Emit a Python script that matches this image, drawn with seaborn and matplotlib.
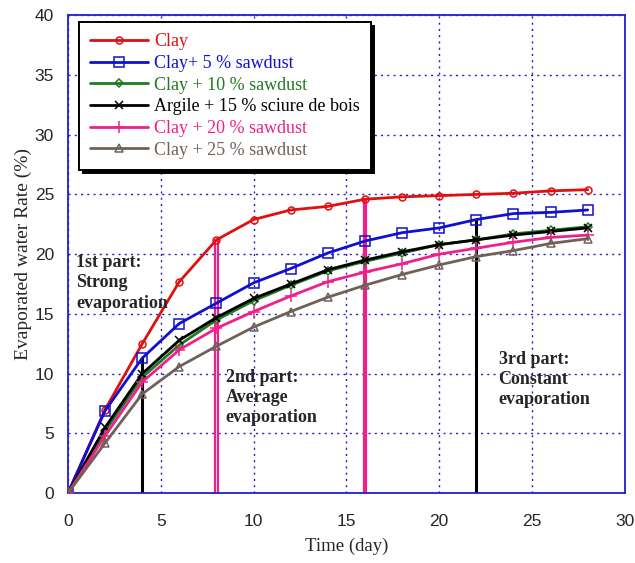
import pandas as pd
import matplotlib
matplotlib.use("Agg")
import matplotlib.pyplot as plt
import seaborn as sns

# Data (time in days, evaporated water rate in %)
days = [0, 2, 4, 6, 8, 10, 12, 14, 16, 18, 20, 22, 24, 26, 28]
clay = [0, 7.0, 12.5, 17.7, 21.2, 22.9, 23.7, 24.0, 24.6, 24.8, 24.9, 25.0, 25.1, 25.3, 25.4]
clay_5 = [0, 6.9, 11.3, 14.2, 15.9, 17.6, 18.8, 20.1, 21.1, 21.8, 22.2, 22.9, 23.4, 23.5, 23.7]
clay_10 = [0, 5.2, 9.7, 12.4, 14.5, 16.1, 17.4, 18.6, 19.4, 20.1, 20.8, 21.2, 21.7, 22.0, 22.3]
clay_15 = [0, 5.5, 10.0, 12.8, 14.7, 16.3, 17.5, 18.7, 19.5, 20.2, 20.8, 21.2, 21.6, 21.9, 22.2]
clay_20 = [0, 4.8, 9.3, 12.0, 13.8, 15.2, 16.5, 17.7, 18.5, 19.2, 20.0, 20.5, 21.0, 21.4, 21.6]
clay_25 = [0, 4.2, 8.3, 10.6, 12.3, 13.9, 15.2, 16.4, 17.4, 18.3, 19.1, 19.8, 20.3, 20.9, 21.3]

labels = ["Clay", "Clay+ 5 % sawdust", "Clay + 10 % sawdust",
          "Argile + 15 % sciure de bois", "Clay + 20 % sawdust", "Clay + 25 % sawdust"]
colors = ["#e01010", "#1010d0", "#207a20", "#000000", "#f0208a", "#706058"]
markers = ["o", "s", "D", "x", "+", "^"]
msizes = [5, 7, 4, 6, 9, 6]

# phase separators: (day, top value)
sep_days = [4, 8, 16, 22]
sep_tops = [11.3, 21.2, 24.6, 22.9]
sep_colors = ["#000000", "#f0208a", "#f0208a", "#000000"]

df = pd.DataFrame({"day": days})
for lab, vals in zip(labels, [clay, clay_5, clay_10, clay_15, clay_20, clay_25]):
    df[lab] = vals

sns.set_style("white")
plt.rcParams["font.family"] = ["Liberation Sans", "DejaVu Sans"]

fig = plt.figure(figsize=(6.35, 5.63), dpi=100)
ax = fig.add_axes([0.107, 0.124, 0.877, 0.849])

# vertical phase lines
for d, top, c in zip(sep_days, sep_tops, sep_colors):
    if c == "#000000":
        ax.plot([d, d], [0, top], color=c, lw=2.2, zorder=2)
    else:
        for off in (-0.06, 0.06):
            ax.plot([d + off, d + off], [0, top], color=c, lw=1.6, zorder=2)

for lab, c, m, ms in zip(labels, colors, markers, msizes):
    mfc = "none" if m in ("o", "s", "D", "^") else c
    sns.lineplot(data=df, x="day", y=lab, ax=ax, color=c, marker=m, markersize=ms,
                 markerfacecolor=mfc, markeredgecolor=c, markeredgewidth=1.1,
                 linewidth=2, label=lab, zorder=3)

ax.set_xlim(0, 30)
ax.set_ylim(0, 40)
ax.set_xticks(range(0, 31, 5))
ax.set_yticks(range(0, 41, 5))
ax.grid(True, color="#2020c0", linestyle=(0, (1.5, 3)), linewidth=1)
for s in ax.spines.values():
    s.set_color("#2020d0")
    s.set_linewidth(1.3)
ax.tick_params(direction="in", length=5, color="#2020d0", labelsize=12.5)
ax.tick_params(axis="x", pad=15)
ax.tick_params(axis="y", pad=10)

ax.set_xlabel("Time (day)", family="Liberation Serif", fontsize=13.5, labelpad=6)
ax.set_ylabel("Evaporated water Rate (%)", family="Liberation Serif", fontsize=14, labelpad=2)

leg = ax.legend(loc="upper left", bbox_to_anchor=(0.02, 0.985), borderaxespad=0,
                prop={"family": "Liberation Serif", "size": 13},
                labelcolor="linecolor", handlelength=3.2, handletextpad=0.35, labelspacing=0.26,
                borderpad=0.6, fancybox=False, framealpha=1,
                shadow={"ox": 2.5, "oy": -2.5, "color": "black", "alpha": 1})
leg.get_frame().set_edgecolor("black")
leg.get_frame().set_linewidth(1.4)

txt = dict(family="Liberation Serif", fontsize=13, fontweight="bold", va="top", linespacing=1.25)
ax.text(0.45, 20.0, "1st part:\nStrong\nevaporation", **txt)
ax.text(8.5, 10.4, "2nd part:\nAverage\nevaporation", **txt)
ax.text(23.2, 11.9, "3rd part:\nConstant\nevaporation", **txt)

plt.savefig("out.png", dpi=100)
